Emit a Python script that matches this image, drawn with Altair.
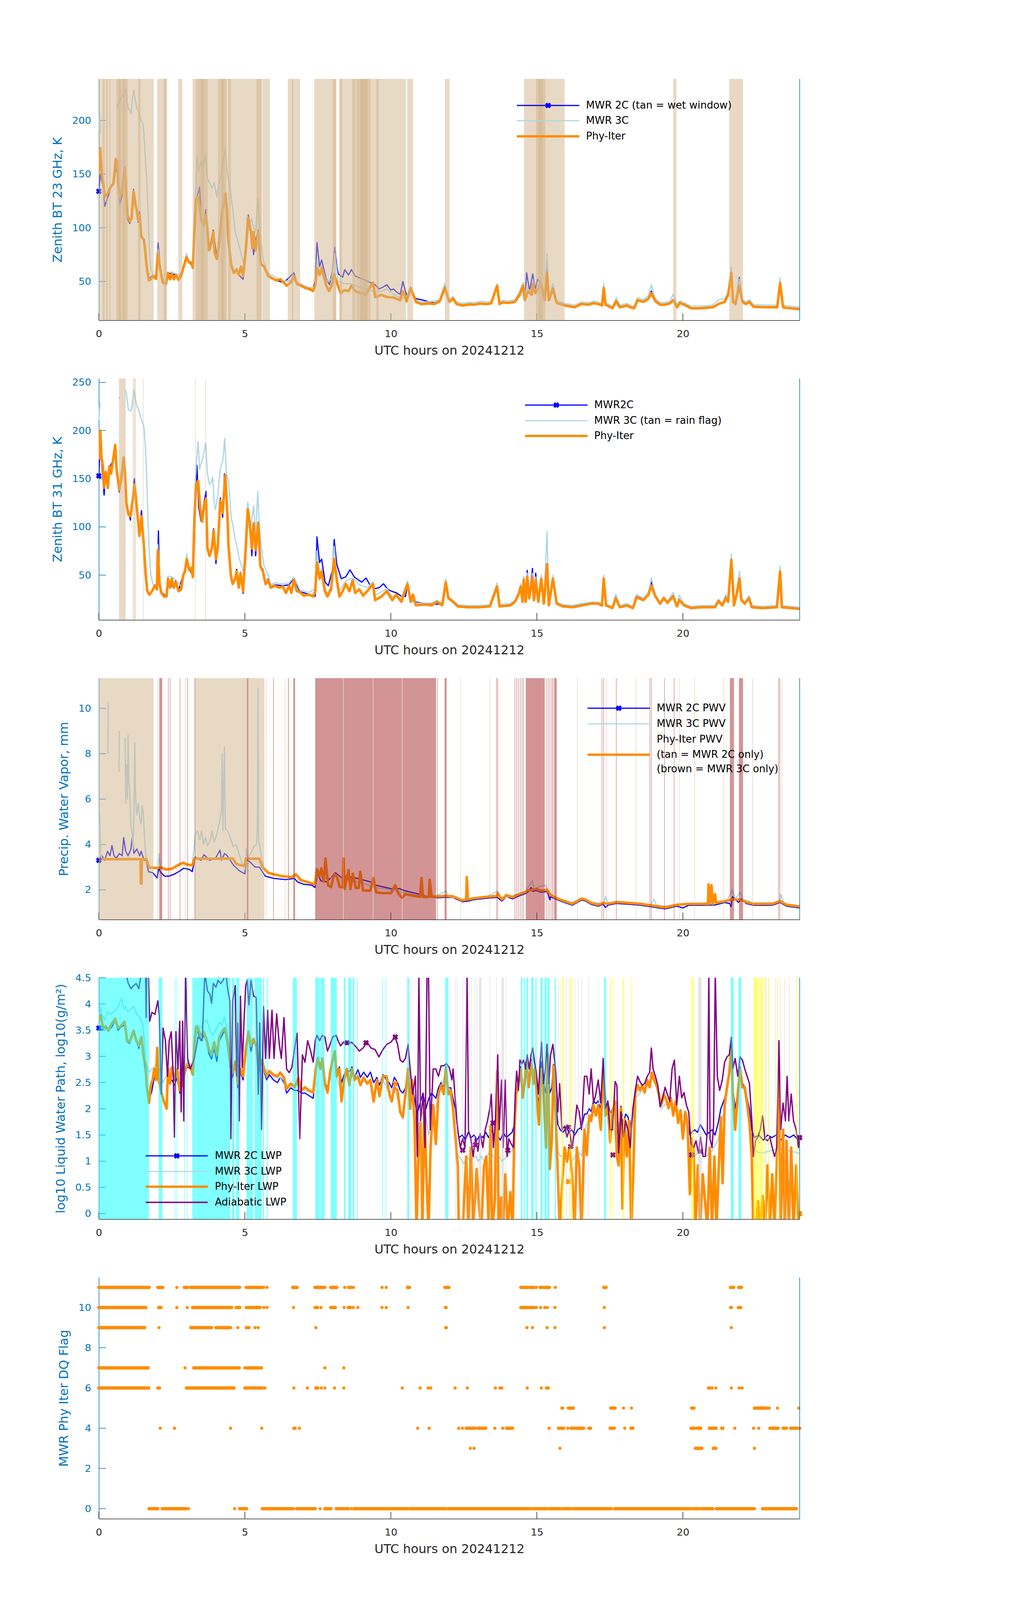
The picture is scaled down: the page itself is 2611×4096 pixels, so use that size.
import altair as alt
import pandas as pd

# ------------------------------------------------------------------ data
X_TICKS = [0, 5, 10, 15, 20]
X_TITLE = "UTC hours on 20241212"

# ---- panel 1 : 23 GHz
P1_YDOM = [13.8, 238.7]
P1_YTICKS = [50, 100, 150, 200]
P1_PHY = [(0,152),(0.05,174),(0.1,149),(0.15,142),(0.2,129),(0.3,132),(0.42,139),(0.5,141),(0.58,164),(0.63,162),(0.66,142),(0.72,129),(0.79,132),(0.88,156),(0.92,142),(0.98,111),(1.06,106),(1.12,109),(1.19,134),(1.26,121),(1.3,116),(1.35,107),(1.4,112),(1.45,92),(1.54,89),(1.58,81),(1.63,66),(1.71,51),(1.78,52),(1.85,55),(1.96,52.5),(2.02,76),(2.1,62),(2.19,49),(2.3,47.5),(2.37,58),(2.44,52),(2.5,57),(2.57,52),(2.64,56),(2.73,51.5),(2.82,55),(2.89,62.5),(2.95,67.5),(3.0,72.5),(3.09,67.5),(3.18,67.5),(3.22,62.5),(3.27,95.7),(3.33,127),(3.4,129),(3.45,119),(3.51,107),(3.59,102),(3.66,112),(3.7,104),(3.77,79),(3.86,86),(3.92,96),(3.97,76),(4.04,71),(4.13,87),(4.22,116),(4.28,122),(4.34,132),(4.39,112),(4.44,87),(4.53,66),(4.62,58),(4.72,61),(4.79,56),(4.87,64),(4.94,55),(5.03,79),(5.12,109),(5.21,96),(5.26,81),(5.3,96),(5.37,79),(5.46,96),(5.55,66),(5.66,64),(5.8,55),(5.94,53),(6.07,51),(6.21,52),(6.34,49),(6.43,46),(6.57,49),(6.68,55),(6.79,47.5),(6.93,46),(7.06,44),(7.24,43),(7.33,41),(7.41,46),(7.47,62.5),(7.56,56),(7.63,62.5),(7.79,46),(7.88,41),(7.97,46),(8.06,57),(8.15,49),(8.28,39),(8.42,42),(8.55,41),(8.65,46),(8.78,41),(8.96,39),(9.14,38),(9.39,49),(9.46,35.5),(9.68,37.5),(9.86,35.5),(10.09,35),(10.32,32.5),(10.41,41),(10.54,31.5),(10.68,44),(10.86,31),(11.04,29),(11.31,29.5),(11.49,29),(11.67,31.5),(11.85,44),(12.0,31),(12.13,34),(12.25,29),(12.46,27.6),(12.7,28.6),(12.86,28.4),(13.05,29.4),(13.27,29),(13.43,29.5),(13.64,45.9),(13.72,29),(13.85,30.5),(14.0,30),(14.25,31),(14.41,37.5),(14.53,45.9),(14.59,32.6),(14.7,41),(14.82,37.5),(14.86,47.5),(14.94,39),(15.02,42),(15.15,47.5),(15.27,32.6),(15.35,57.6),(15.41,32.6),(15.55,43),(15.68,30),(15.96,27.6),(16.1,27.0),(16.29,26),(16.53,29),(16.78,28.4),(16.95,29.8),(17.1,29),(17.23,27.6),(17.29,44),(17.35,28.4),(17.59,25),(17.72,31.6),(17.84,26),(18.08,27.6),(18.2,26.0),(18.33,25),(18.45,32.6),(18.65,31),(18.82,34),(18.92,39),(19.06,31.6),(19.22,28.4),(19.39,28.4),(19.55,29.5),(19.67,32.6),(19.8,26),(19.9,30),(20.04,28.4),(20.29,25),(20.61,25),(20.85,25.5),(21.02,26),(21.22,29),(21.43,31),(21.55,37.5),(21.66,57.6),(21.72,31),(21.8,29),(21.93,46),(22.04,31),(22.16,29),(22.28,31),(22.41,26.5),(22.6,26.2),(22.9,26),(23.23,26),(23.33,48.4),(23.43,26),(23.55,25.4),(23.71,25),(24.0,24.2)]
P1_2C = [(0,134),(0.05,150),(0.15,138),(0.2,120),(0.3,128),(0.42,138),(0.5,140),(0.6,158),(0.72,122),(0.8,130),(0.88,150),(0.98,108),(1.06,104),(1.12,110),(1.19,136),(1.26,120),(1.35,105),(1.4,115),(1.45,93),(1.54,88),(1.63,66),(1.71,52),(1.85,56),(1.96,54),(2.03,86),(2.1,64),(2.19,49),(2.3,47),(2.37,58),(2.5,57),(2.64,56),(2.73,52),(2.89,63),(2.95,70),(3.0,74),(3.09,68),(3.22,64),(3.33,125),(3.45,138),(3.51,110),(3.59,103),(3.66,117),(3.77,79),(3.92,98),(4.04,72),(4.22,118),(4.28,124),(4.34,128),(4.44,88),(4.53,67),(4.62,59),(4.72,62),(4.79,56),(4.94,52),(5.03,80),(5.12,112),(5.21,98),(5.3,75),(5.37,88),(5.46,98),(5.55,66),(5.66,64),(5.8,56),(6.07,51),(6.34,49),(6.68,58),(6.79,48),(7.06,44),(7.33,41),(7.41,52),(7.47,86),(7.56,64),(7.63,70),(7.79,52),(7.9,47),(8.0,60),(8.08,82),(8.15,64),(8.2,57),(8.35,54),(8.42,61),(8.55,56),(8.65,61),(8.78,55),(8.96,53),(9.14,51),(9.3,49),(9.46,47),(9.6,43),(9.75,45),(9.86,47),(10.0,42),(10.09,43),(10.2,40),(10.32,38),(10.41,50),(10.54,37),(10.68,41),(10.86,34),(11.04,33),(11.31,31),(11.49,30),(11.67,32),(11.85,45),
         (12.0,31),(12.13,34),(12.25,29),(12.46,27.6),(12.7,28.6),(12.86,28.4),(13.05,29.4),(13.27,29),(13.43,29.5),(13.64,45),(13.72,29),(13.85,30.5),(14.0,30),(14.25,31),(14.41,39),(14.53,48),(14.59,33),(14.65,58),(14.75,41),(14.86,57),(14.94,42),(15.02,52),(15.15,48),(15.27,34),(15.35,63),(15.41,33),(15.55,44),(15.68,30.5),(15.96,28),(16.1,27.2),(16.29,26.3),(16.53,29),(16.78,28.4),(16.95,29.6),(17.1,29),(17.23,27.6),(17.29,45),(17.35,28.4),(17.59,25),(17.72,31.6),(17.84,26),(18.08,27.6),(18.2,26),(18.33,25),(18.45,33),(18.65,31),(18.82,34),(18.92,41),(19.06,31.6),(19.22,28.4),(19.39,28.4),(19.55,29.5),(19.67,33),(19.8,26),(19.9,30),(20.04,28.4),(20.29,25),(20.61,25),(20.85,25.5),(21.02,26),(21.22,29),(21.43,31),(21.55,39),(21.66,63),(21.72,31),(21.8,29),(21.93,54),(22.04,32),(22.16,29),(22.28,31),(22.41,26.3),(22.6,26),(22.9,25.8),(23.23,26),(23.33,52),(23.43,26),(23.55,25.2),(23.71,24.8),(24.0,24)]
P1_3C = [(0,190),(0.03,205),(0.06,188), None,
         (0.62,212),(0.7,218),(0.8,222),(0.92,229),(1.0,212),(1.05,210),(1.1,206),(1.15,220),(1.2,228),(1.25,218),(1.3,212),(1.38,207),(1.45,200),(1.52,196),(1.56,180),(1.6,160),(1.64,146),(1.69,112),(1.73,79),(1.78,62),(1.85,56),(1.96,54),(2.03,80),(2.1,63),(2.19,52),(2.3,50),(2.4,58),(2.5,59),(2.64,57),(2.82,56),(2.95,70),(3.0,76),(3.09,69),(3.22,68),(3.3,128),(3.36,166),(3.42,152),(3.5,162),(3.58,156),(3.66,169),(3.72,146),(3.8,141),(3.88,137),(3.95,142),(4.04,129),(4.1,140),(4.17,146),(4.24,159),(4.33,174),(4.39,152),(4.49,137),(4.58,119),(4.67,96),(4.81,82.5),(4.9,72.5),(4.99,64),(5.08,112),(5.17,104),(5.23,108),(5.3,100),(5.37,96),(5.44,127),(5.53,96),(5.62,71),(5.71,62.5),(5.8,57.6),(6.0,55),(6.3,50),(6.6,51),(6.9,48),(7.2,44),(7.41,45),(7.47,70),(7.56,57),(7.63,65),(7.79,50),(7.97,52),(8.08,76),(8.2,50),(8.4,48),(8.6,48),(8.8,46),(9.0,44),(9.2,43),(9.46,40),(9.7,41),(9.86,43),(10.09,38),(10.32,35),(10.5,34),(10.68,44),(10.86,33),(11.04,31),(11.3,31),(11.67,33),(11.85,48),
         (12.0,33),(12.13,36),(12.25,31),(12.46,29.5),(12.7,30.5),(12.86,30.3),(13.05,31.3),(13.27,31),(13.43,31.5),(13.64,48),(13.72,31),(13.85,32.5),(14.0,32),(14.25,33),(14.41,41),(14.53,49),(14.59,35),(14.65,45),(14.7,43),(14.82,40),(14.86,52),(14.94,41),(15.02,45),(15.15,50),(15.27,36),(15.35,76),(15.41,35),(15.55,48),(15.68,32),(15.96,29.5),(16.1,29),(16.29,28),(16.53,31),(16.78,30.3),(16.95,31.6),(17.1,31),(17.23,29.5),(17.29,48),(17.35,30.3),(17.59,27),(17.72,35),(17.84,28),(18.08,29.5),(18.2,28),(18.33,27),(18.45,35),(18.65,33),(18.82,37),(18.92,47),(19.06,34),(19.22,30.3),(19.39,30.3),(19.55,31.5),(19.67,38),(19.8,29),(19.9,32),(20.04,30.3),(20.29,27),(20.61,27),(20.85,27.5),(21.02,28),(21.22,33),(21.43,34),(21.55,40),(21.66,63),(21.72,33),(21.8,31),(21.93,52),(22.04,33),(22.16,31),(22.28,33),(22.41,28.5),(22.6,28.2),(22.9,28),(23.23,28),(23.33,53),(23.43,28),(23.55,27.4),(23.71,27),(24.0,26)]
P1_TAN = [(0,1.88),(0.13,0.2),(0.25,0.31),(0.36,0.4),(0.6,0.99),(0.67,0.75),(0.83,0.9),(1.34,1.43),(2.0,2.33),(2.22,2.33),(2.72,2.86),(3.21,5.58),(5.6,5.86),(3.32,3.73),(3.5,3.6),(4.08,4.37),(4.2,4.3),(4.43,4.52),(5.4,5.58),(6.47,6.89),(6.61,6.66),(7.38,8.13),(8.01,8.13),(8.24,10.52),(8.24,8.33),(8.68,8.79),(8.82,9.3),(8.95,9.2),(9.5,9.59),(10.56,10.76),(11.85,12.01),(14.56,15.95),(14.97,15.29),(15.05,15.2),(19.67,19.78),(21.59,22.06)]

# ---- panel 2 : 31 GHz
P2_YDOM = [3.5, 254]
P2_YTICKS = [50, 100, 150, 200, 250]
P2_PHY = [(0,170),(0.05,199.7),(0.09,172),(0.14,162.8),(0.18,140.6),(0.24,157),(0.31,140.6),(0.36,162.8),(0.42,155.4),(0.5,172),(0.56,185),(0.61,159),(0.7,138.7),(0.76,148),(0.85,172),(0.89,159),(0.94,125.8),(1.01,113),(1.08,111),(1.17,129.5),(1.22,144),(1.26,133),(1.33,111),(1.39,90.7),(1.46,111),(1.54,81.4),(1.6,51.8),(1.66,33.3),(1.73,29.7),(1.82,33.3),(1.92,39),(1.99,35.2),(2.02,75.9),(2.08,40.8),(2.14,31.5),(2.23,27.8),(2.32,27.8),(2.37,46.3),(2.44,37),(2.5,46.3),(2.57,37),(2.64,42.6),(2.73,33.3),(2.82,35.2),(2.89,50),(2.95,53.7),(3.01,66.6),(3.09,55.5),(3.16,57.4),(3.22,48),(3.27,105.5),(3.33,144),(3.4,148),(3.47,118.4),(3.54,105.5),(3.6,122),(3.67,129.5),(3.72,77.7),(3.79,70),(3.87,77.7),(3.93,96.2),(4.01,66.6),(4.07,77.7),(4.16,127.6),(4.24,114.7),(4.33,153.5),(4.4,114.7),(4.44,81.4),(4.52,50),(4.58,40.8),(4.67,46.3),(4.72,53.7),(4.79,37),(4.85,51.8),(4.94,33.3),(5.03,77.7),(5.1,118.4),(5.17,103.6),(5.24,77.7),(5.3,103.6),(5.37,75.9),(5.46,103.6),(5.53,59.2),(5.62,53.7),(5.71,40.8),(5.8,44.5),(5.89,37),(6.03,39),(6.16,37),(6.3,38),(6.41,31.5),(6.52,39),(6.59,31.5),(6.68,45.4),(6.78,33.3),(6.88,32.4),(7.02,28.7),(7.2,29.7),(7.34,27.8),(7.41,33.3),(7.47,63),(7.56,46.3),(7.63,53.7),(7.74,33.3),(7.83,27.8),(7.95,35.2),(8.06,66.6),(8.15,44.5),(8.24,27.8),(8.35,33.3),(8.46,40.8),(8.58,33.3),(8.69,44.5),(8.78,31.5),(8.92,35.2),(9.05,28.7),(9.19,33.3),(9.39,40.8),(9.46,24.1),(9.68,27.8),(9.86,33.3),(10.05,24),(10.18,29.7),(10.36,22.3),(10.57,40.8),(10.68,22.3),(10.75,29.7),(10.86,18.7),(11.13,19.5),(11.4,18.7),(11.58,22.3),(11.76,18.7),(11.88,42.6),(11.97,26),(12.13,22.3),(12.29,17.6),(12.62,16.7),(13.03,16.7),(13.39,17.6),(13.64,38),(13.72,17.6),(14.09,18.5),(14.25,22.3),(14.37,29.7),(14.45,38),(14.51,22.3),(14.55,45.4),(14.62,22.3),(14.67,48.1),(14.74,26),(14.85,48),(14.9,24.1),(14.96,44.5),(15.05,22.3),(15.15,46.3),(15.24,20.4),(15.35,61),(15.41,18.7),(15.55,46.3),(15.68,20.4),(15.88,17.6),(16.21,16.7),(16.53,18.5),(16.86,20.4),(17.1,20.4),(17.23,18.5),(17.29,46.3),(17.37,18.5),(17.59,15.8),(17.7,26),(17.84,16.7),(18.08,18.5),(18.29,15.8),(18.41,26.9),(18.65,24.1),(18.82,29.7),(18.92,39),(19.06,27.8),(19.22,20.4),(19.35,26),(19.47,21.3),(19.67,27.8),(19.8,17.6),(19.88,24.1),(20.04,18.5),(20.29,15.8),(20.61,16.7),(21.1,16.7),(21.22,23.2),(21.35,18.5),(21.47,26),(21.55,22.3),(21.66,65.7),(21.75,18.5),(21.85,31.5),(21.94,46.3),(22.0,24.1),(22.12,20.4),(22.27,26),(22.36,16.7),(22.73,15.8),(23.22,16.7),(23.33,53.7),(23.39,16.7),(23.71,15.8),(24.0,14.9)]
P2_2C = [(0,153),(0.05,190),(0.1,165),(0.18,133),(0.24,155),(0.31,140),(0.36,160),(0.42,165),(0.5,170),(0.56,180),(0.61,158),(0.7,136),(0.76,148),(0.85,170),(0.94,123),(1.01,117),(1.08,107),(1.17,132),(1.22,150),(1.26,130),(1.33,115),(1.39,92),(1.46,117),(1.54,80),(1.6,50),(1.66,33),(1.73,30),(1.82,34),(1.92,40),(1.99,36),(2.04,96),(2.08,44),(2.14,32),(2.3,28),(2.37,47),(2.44,38),(2.57,39),(2.64,45),(2.73,34),(2.89,51),(2.95,55),(3.01,70),(3.09,57),(3.22,49),(3.3,110),(3.36,164),(3.42,120),(3.5,106),(3.6,125),(3.67,137),(3.72,80),(3.79,72),(3.87,80),(3.93,98),(4.01,62),(4.07,80),(4.16,130),(4.24,110),(4.3,155),(4.4,115),(4.44,82),(4.52,52),(4.58,41),(4.67,47),(4.72,56),(4.79,38),(4.85,53),(4.94,31),(5.03,80),(5.1,123),(5.17,105),(5.24,70),(5.3,103),(5.37,70),(5.46,105),(5.53,60),(5.62,56),(5.71,42),(5.8,46),(5.89,38),(6.03,40),(6.3,39),(6.52,40),(6.68,47),(6.88,33),(7.2,30),(7.41,28),(7.47,89.7),(7.56,63),(7.63,66.6),(7.75,42.6),(7.86,39),(8.0,55.5),(8.06,87),(8.15,61),(8.3,46.3),(8.45,48),(8.6,55.5),(8.75,48),(9.0,42.6),(9.15,47),(9.3,39),(9.46,36),(9.6,37),(9.75,41),(9.9,35),(10.05,33),(10.2,31.5),(10.36,28),(10.5,27.8),(10.57,40),(10.68,25),(10.8,22.3),(11.1,21),(11.5,20),
         (11.76,19.5),(11.88,43),(11.97,26),(12.13,22),(12.29,18),(12.62,17.2),(13.03,17.2),(13.39,18),(13.64,39),(13.72,18),(14.09,19),(14.25,23),(14.37,31),(14.45,39),(14.51,23),(14.55,47),(14.62,23),(14.67,55),(14.74,27),(14.85,57),(14.9,25),(14.96,52),(15.05,23),(15.15,47),(15.24,21),(15.35,62),(15.41,19.5),(15.55,48),(15.68,21),(15.88,18.5),(16.21,17.5),(16.53,19.5),(16.86,21),(17.1,21),(17.23,19),(17.29,48),(17.37,19),(17.59,16.5),(17.7,28),(17.84,17.5),(18.08,19),(18.29,16.5),(18.41,28),(18.65,25),(18.82,31),(18.92,43),(19.06,29),(19.22,21),(19.35,27),(19.47,22),(19.67,29),(19.8,18.5),(19.88,25),(20.04,19),(20.29,16.5),(20.61,17.2),(21.1,17.2),(21.22,24),(21.35,19),(21.47,28),(21.55,23),(21.66,70),(21.75,19),(21.85,33),(21.94,52),(22.0,25),(22.12,21),(22.27,27),(22.36,17.5),(22.73,16.5),(23.22,17.5),(23.33,57),(23.39,17.5),(23.71,16.5),(24.0,15.5)]
P2_3C = [(0,211),(0.04,229), None, (0.69,233),(0.71,235), None,
         (0.92,242),(0.97,232),(1.01,222),(1.1,220),(1.16,230),(1.21,242),(1.26,232),(1.3,225.6),(1.36,222),(1.42,214.5),(1.48,210),(1.55,203),(1.6,180),(1.64,151.7),(1.68,110),(1.72,77.7),(1.78,50),(1.87,39),(1.99,38),(2.02,82),(2.08,44),(2.14,33),(2.3,30),(2.37,49),(2.5,48),(2.64,45),(2.82,38),(2.95,58),(3.01,72),(3.09,58),(3.22,52),(3.3,145),(3.35,170),(3.4,188.6),(3.45,160),(3.5,166),(3.55,170),(3.61,179),(3.66,187),(3.72,155),(3.79,144),(3.85,146),(3.9,151.7),(3.95,125),(3.99,118),(4.05,128),(4.08,133),(4.12,150),(4.16,159),(4.2,165),(4.24,168),(4.28,180),(4.31,192),(4.34,172),(4.37,155),(4.44,148),(4.53,111),(4.6,100),(4.67,87),(4.74,78),(4.81,66.6),(4.9,59),(4.99,50),(5.03,80),(5.1,126),(5.2,100),(5.3,122),(5.37,90),(5.44,137),(5.5,100),(5.57,77.7),(5.66,59),(5.8,50),(5.89,40),(6.03,42),(6.3,41),(6.52,42),(6.68,48),(6.88,35),(7.2,32),(7.41,36),(7.47,75),(7.56,50),(7.63,57),(7.74,37),(7.83,31),(7.95,38),(8.06,80),(8.15,48),(8.24,34),(8.46,44),(8.69,47),(8.92,40),(9.19,37),(9.39,43),(9.46,29),(9.86,36),(10.05,28),(10.36,26),(10.57,44),(10.68,26),(10.86,21),(11.4,21),
         (11.58,24),(11.76,20.5),(11.88,46),(11.97,28),(12.13,24),(12.29,19.5),(12.62,18.5),(13.03,18.5),(13.39,19.5),(13.64,42),(13.72,19.5),(14.09,20.5),(14.25,24),(14.37,32),(14.45,41),(14.51,24),(14.55,49),(14.62,24),(14.67,52),(14.74,28),(14.85,52),(14.9,26),(14.96,48),(15.05,25),(15.15,50),(15.24,22),(15.35,95.3),(15.41,21),(15.55,50),(15.68,22),(15.88,19.5),(16.21,18.5),(16.53,20.5),(16.86,22),(17.1,22),(17.23,20.5),(17.29,50),(17.37,20),(17.59,17.5),(17.7,30),(17.84,18.5),(18.08,20.5),(18.29,17.5),(18.41,30),(18.65,26),(18.82,32),(18.92,47),(19.06,30),(19.22,22),(19.35,28),(19.47,23),(19.67,32),(19.8,19.5),(19.88,29),(20.04,20.5),(20.29,17.5),(20.61,18.5),(21.1,18.5),(21.22,25),(21.35,20.5),(21.47,30),(21.55,24),(21.66,72),(21.75,20),(21.85,34),(21.94,54),(22.0,27),(22.12,22),(22.27,29),(22.36,18.5),(22.73,17.5),(23.22,18.5),(23.33,59),(23.39,18.5),(23.71,17.5),(24.0,16.5)]
P2_TAN = [(0.69,0.92),(1.16,1.19),(1.21,1.26),(1.51,1.53),(3.3,3.32),(3.65,3.67)]

# ---- panel 3 : PWV
P3_YDOM = [0.69, 11.33]
P3_YTICKS = [2, 4, 6, 8, 10]
P3_PHY = [(0,3.35),(1.43,3.35),(1.44,2.28),(1.46,2.28),(1.47,3.35),(1.63,3.35),(1.72,2.99),(2.0,2.96),(2.1,2.99),(2.3,2.9),(2.5,2.93),(2.8,3.15),(2.9,3.19),(3.0,3.12),(3.2,3.08),(3.27,3.37),(4.6,3.37),(4.7,3.15),(4.9,3.07),(5.0,3.07),(5.03,3.37),(5.5,3.37),(5.6,3.0),(5.8,2.75),(6.0,2.68),(6.3,2.6),(6.6,2.56),(6.75,2.68),(6.9,2.44),(7.1,2.36),(7.3,2.28),(7.4,2.24),(7.47,2.91),(7.55,2.6),(7.62,2.95),(7.7,2.36),(7.76,3.38),(7.85,2.2),(7.95,2.12),(8.06,2.68),(8.15,2.6),(8.25,2.12),(8.35,2.12),(8.38,3.38),(8.42,2.04),(8.55,2.87),(8.62,2.04),(8.7,2.71),(8.8,2.08),(8.9,2.08),(8.95,2.79),(9.05,1.97),(9.3,1.97),(9.4,2.52),(9.5,1.89),(9.75,1.85),(10.0,1.85),(10.15,2.2),(10.25,1.85),(10.38,1.65),(10.5,1.81),(10.8,1.73),(11.0,1.69),(11.05,2.52),(11.1,1.69),(11.3,1.69),(11.33,2.44),(11.4,1.69),(11.6,1.71),(11.9,1.73),(12.13,1.71),(12.46,1.53),(12.58,1.57),(12.6,2.56),(12.64,1.57),(12.86,1.63),(13.27,1.69),(13.64,1.73),(13.66,1.85),(13.8,1.57),(13.96,1.77),(14.17,1.67),(14.33,1.77),(14.58,1.89),(14.7,1.97),(14.86,2.0),(14.98,2.04),(15.11,1.97),(15.23,1.97),(15.35,2.0),(15.47,1.77),(15.64,1.65),(15.88,1.53),(16.21,1.38),(16.37,1.49),(16.53,1.61),(16.66,1.57),(16.86,1.42),(17.1,1.34),(17.27,1.42),(17.43,1.38),(17.72,1.46),(18.16,1.42),(18.57,1.38),(18.98,1.3),(19.39,1.22),(19.8,1.34),(20.2,1.38),(20.61,1.38),(20.86,1.38),(20.88,2.24),(20.92,1.38),(20.98,2.2),(21.02,1.38),(21.1,1.81),(21.14,1.42),(21.43,1.5),(21.67,1.57),(21.95,1.57),(22.16,1.46),(22.41,1.38),(23.06,1.38),(23.33,1.5),(23.55,1.34),(24.0,1.26)]
P3_2C = [(0,3.3),(0.1,3.5),(0.2,3.3),(0.3,3.7),(0.38,3.5),(0.45,3.95),(0.52,3.5),(0.6,3.4),(0.7,3.6),(0.8,3.5),(0.85,4.3),(0.92,3.7),(1.0,3.5),(1.1,3.8),(1.15,4.4),(1.2,3.6),(1.3,3.8),(1.4,3.5),(1.45,3.7),(1.55,3.3),(1.62,3.3),(1.7,2.8),(1.85,2.75),(2.0,2.52),(2.05,3.0),(2.1,2.8),(2.25,2.6),(2.4,2.6),(2.6,2.7),(2.8,2.85),(2.9,2.95),(3.1,2.9),(3.2,2.8),(3.3,3.45),(3.5,3.3),(3.6,3.55),(3.8,3.3),(4.0,3.4),(4.15,3.75),(4.2,3.3),(4.3,3.6),(4.4,3.5),(4.6,3.1),(4.8,2.85),(5.0,2.7),(5.05,3.35),(5.2,3.2),(5.35,3.0),(5.5,3.0),(5.6,2.8),(5.7,2.6),(6.0,2.5),(6.4,2.45),(6.7,2.5),(6.8,2.35),(7.0,2.25),(7.3,2.2),(7.4,2.1),(7.5,2.7),(7.6,2.4),(7.8,2.35),(8.0,2.6),(8.1,2.75),(8.3,2.55),(8.5,2.6),(8.7,2.55),(9.0,2.45),(9.3,2.35),(9.5,2.2),(10.0,2.05),(10.3,2.05),(10.5,1.95),(11.0,1.8),(11.3,1.7),
         (11.6,1.65),(11.9,1.67),(12.13,1.65),(12.46,1.47),(12.58,1.5),(12.64,1.5),(12.86,1.57),(13.27,1.63),(13.64,1.67),(13.8,1.5),(13.96,1.7),(14.17,1.6),(14.33,1.7),(14.58,1.82),(14.7,1.9),(14.8,2.1),(14.86,1.93),(14.98,1.97),(15.11,1.9),(15.23,1.9),(15.35,1.93),(15.45,1.55),(15.47,1.7),(15.64,1.59),(15.88,1.47),(16.21,1.32),(16.37,1.43),(16.53,1.55),(16.66,1.51),(16.86,1.36),(17.1,1.28),(17.27,1.36),(17.35,1.22),(17.43,1.32),(17.72,1.4),(18.16,1.36),(18.57,1.32),(18.98,1.24),(19.39,1.16),(19.8,1.28),(20.0,1.2),(20.2,1.32),(20.61,1.32),(21.1,1.33),(21.43,1.44),(21.6,1.4),(21.65,1.25),(21.7,1.7),(21.9,1.45),(21.95,1.51),(22.0,1.6),(22.16,1.4),(22.41,1.32),(23.06,1.32),(23.33,1.44),(23.55,1.28),(24.0,1.2)]
P3_3C = [(0,3.3),(0.03,5.3),(0.06,3.6),(0.1,3.4), None, (0.31,8.0),(0.32,10.3), None, (0.69,7.2),(0.7,9.0), None,
         (0.9,8.7),(0.92,5.8),(0.95,7.5),(0.98,6.0),(1.0,8.8),(1.03,6.8),(1.06,6.2),(1.1,4.8),(1.14,4.5),(1.17,3.8),(1.2,5.0),(1.23,8.5),(1.26,6.0),(1.3,5.3),(1.35,5.8),(1.4,5.2),(1.45,4.9),(1.48,5.7),(1.52,5.4),(1.56,4.4),(1.6,3.6),(1.65,3.2),(1.72,3.0),(1.9,2.95),(2.03,3.0),(2.06,3.6),(2.1,3.0),(2.3,2.85),(2.5,2.9),(2.8,3.15),(2.95,3.2),(3.1,3.1),(3.2,3.05),(3.3,4.4),(3.38,4.6),(3.45,4.2),(3.52,4.6),(3.58,4.0),(3.65,4.3),(3.72,3.95),(3.8,4.1),(3.88,4.6),(3.95,4.1),(4.05,4.5),(4.13,5.0),(4.2,5.5),(4.22,8.0),(4.25,4.6),(4.3,8.3),(4.33,4.7),(4.4,4.6),(4.47,4.4),(4.55,4.1),(4.6,3.9),(4.7,4.0),(4.8,3.6),(4.9,3.2),(5.0,2.9),(5.05,3.8),(5.1,3.4),(5.2,3.6),(5.3,3.9),(5.4,4.0),(5.43,4.8),(5.45,10.9),(5.47,4.2),(5.55,3.6),(5.65,3.0),(5.75,2.8),(6.0,2.7),(6.3,2.6),(6.6,2.56),(6.75,2.7),(7.0,2.4),(7.4,2.25),(7.5,2.7),(7.7,2.5),(8.0,2.55),(8.1,2.7),(8.3,2.5),(8.6,2.45),(9.0,2.3),(9.5,2.1),(10.0,2.0),(10.5,1.85),(11.0,1.75),(11.5,1.7),(11.9,1.95),(11.95,1.7),(12.5,1.56),(13.3,1.7),(13.65,1.95),(13.8,1.6),(14.3,1.8),(14.6,1.9),(14.85,2.4),(14.9,2.0),(15.1,2.15),(15.3,2.2),(15.45,1.8),(15.6,1.68),(16.2,1.42),(16.5,1.63),(16.9,1.44),(17.3,1.4),(17.35,1.7),(17.45,1.4),(18.0,1.45),(18.5,1.4),(18.9,1.32),(19.0,1.6),(19.1,1.32),(19.4,1.28),(19.8,1.35),(20.5,1.4),(21.5,1.5),(21.7,2.0),(21.8,1.6),(21.95,1.9),(22.05,1.6),(22.4,1.42),(23.3,1.44),(23.35,1.8),(23.45,1.4),(24.0,1.3)]
P3_TAN = [(0,1.87),(2.0,2.02),(2.95,2.97),(3.28,5.67),(5.72,5.74),(6.37,6.39),(6.47,6.49),(8.36,8.38),(9.38,9.4),(10.38,10.4),(12.38,12.4),(13.38,13.4),(16.38,16.4),(17.38,17.4),(18.38,18.4),(19.87,19.89),(20.39,20.41),(21.39,21.41),(22.38,22.4),(23.38,23.4)]
P3_BROWN = [(2.07,2.17),(2.37,2.39),(2.43,2.45),(2.77,2.79),(3.03,3.05),(3.28,3.3),(5.07,5.09),(5.1,5.12),(5.97,5.99),(6.49,6.51),(6.66,6.72),(7.41,8.36),(8.38,9.38),(9.4,10.38),(10.4,11.55),(11.59,11.61),(11.84,11.91),(13.61,13.63),(13.65,13.67),(14.24,14.26),(14.3,14.32),(14.36,14.38),(14.42,14.44),(14.48,14.5),(14.53,14.55),(14.62,15.27),(15.32,15.34),(15.38,15.4),(15.44,15.46),(15.5,15.52),(15.54,15.56),(15.59,15.68),(17.22,17.24),(17.28,17.3),(17.71,17.73),(18.86,18.88),(18.91,18.93),(19.36,19.38),(19.69,19.71),(21.61,21.75),(21.92,22.06),(23.27,23.29),(23.31,23.33)]

# ---- panel 4 : LWP
P4_YDOM = [-0.105, 4.5]
P4_YTICKS = [0, 0.5, 1, 1.5, 2, 2.5, 3, 3.5, 4, 4.5]
P4_PHY = [(0,3.67),(0.06,3.79),(0.15,3.54),(0.24,3.57),(0.33,3.49),(0.42,3.6),(0.56,3.72),(0.65,3.54),(0.74,3.57),(0.88,3.66),(0.97,3.3),(1.06,3.28),(1.19,3.49),(1.28,3.3),(1.37,3.2),(1.46,3.37),(1.54,2.96),(1.6,2.86),(1.64,2.45),(1.72,2.11),(1.78,2.45),(1.84,2.55),(1.9,2.76),(1.96,2.55),(2.0,3.16),(2.05,2.55),(2.14,2.31),(2.23,2.14),(2.32,2.0),(2.37,2.76),(2.44,2.48),(2.5,2.79),(2.59,2.55),(2.68,2.76),(2.77,2.35),(2.86,2.48),(2.95,2.72),(3.04,2.86),(3.16,2.76),(3.22,2.65),(3.27,3.23),(3.33,3.57),(3.4,3.54),(3.5,3.37),(3.59,3.47),(3.68,3.33),(3.77,3.13),(3.86,3.03),(3.95,3.27),(4.04,3.03),(4.13,3.37),(4.22,3.47),(4.31,3.54),(4.4,3.3),(4.49,2.89),(4.58,2.69),(4.67,2.89),(4.76,2.48),(4.85,2.76),(4.94,2.62),(5.03,3.1),(5.12,3.47),(5.21,3.2),(5.3,3.33),(5.39,3.2),(5.48,2.72),(5.57,2.93),(5.66,2.76),(5.75,2.62),(5.84,2.72),(5.98,2.65),(6.12,2.62),(6.21,2.69),(6.34,2.59),(6.43,2.38),(6.57,2.48),(6.7,2.41),(6.84,2.59),(6.93,2.35),(7.06,2.41),(7.2,2.35),(7.34,2.31),(7.43,2.76),(7.5,2.96),(7.59,2.76),(7.65,2.96),(7.74,2.48),(7.83,2.31),(7.92,2.69),(7.99,2.89),(8.08,3.1),(8.15,2.62),(8.24,2.76),(8.31,2.14),(8.4,2.55),(8.49,2.76),(8.58,2.45),(8.67,2.76),(8.76,2.55),(8.87,2.62),(8.96,2.45),(9.07,2.59),(9.19,2.48),(9.3,2.55),(9.41,2.14),(9.52,2.55),(9.61,2.24),(9.73,2.62),(9.85,2.62),(9.94,2.31),(10.03,2.14),(10.12,2.41),(10.23,2.35),(10.32,1.94),(10.41,1.84),(10.5,2.28),(10.59,2.76),(10.66,2.0),(10.72,2.55),(10.81,1.77),(10.88,-0.3),(10.95,1.26),(11.02,1.73),(11.08,-0.3),(11.15,2.11),(11.22,0.68),(11.29,-0.3),(11.36,1.26),(11.45,2.07),(11.54,1.33),(11.63,2.28),(11.72,2.45),(11.81,2.28),(11.88,2.76),(11.97,2.28),(12.05,2.35),(12.13,2.0),(12.21,1.46),(12.29,0.92),(12.33,-0.3),(12.46,-0.3),(12.58,1.09),(12.66,-0.3),(12.74,1.26),(12.82,-0.3),(12.94,0.85),(13.03,0.07),(13.1,-0.3),(13.19,0.92),(13.27,1.09),(13.35,-0.3),(13.41,1.67),(13.47,-0.3),(13.56,0.24),(13.64,2.72),(13.69,-0.3),(13.78,0.31),(13.84,-0.3),(13.92,0.75),(14.0,-0.3),(14.09,0.41),(14.17,-0.3),(14.23,1.6),(14.29,2.28),(14.37,2.48),(14.45,2.76),(14.51,2.21),(14.58,2.48),(14.64,2.89),(14.72,2.41),(14.8,2.89),(14.89,2.48),(14.94,2.76),(15.0,2.21),(15.07,1.7),(15.15,2.76),(15.23,2.41),(15.31,1.26),(15.38,3.03),(15.44,0.85),(15.51,1.39),(15.57,2.82),(15.64,1.87),(15.72,0.75),(15.78,-0.3),(15.86,0.51),(15.95,1.26),(16.03,0.99),(16.11,1.26),(16.21,0.75),(16.29,-0.3),(16.37,1.26),(16.45,0.92),(16.53,-0.3),(16.63,1.6),(16.71,1.12),(16.79,1.87),(16.86,1.77),(16.94,2.07),(17.02,1.87),(17.1,2.07),(17.19,1.6),(17.27,2.76),(17.35,1.87),(17.43,2.07),(17.51,1.36),(17.59,1.94),(17.68,2.14),(17.74,1.09),(17.8,0.92),(17.88,2.01),(17.93,0.1),(18.0,1.8),(18.08,1.09),(18.16,1.77),(18.23,-0.3),(18.31,0.92),(18.37,2.28),(18.45,2.45),(18.53,2.35),(18.61,2.45),(18.69,2.31),(18.78,2.55),(18.86,2.41),(18.94,2.69),(19.02,2.55),(19.1,2.45),(19.18,2.28),(19.26,2.07),(19.35,2.28),(19.43,2.18),(19.51,2.01),(19.59,2.21),(19.67,1.87),(19.75,2.14),(19.84,1.73),(19.92,1.97),(20.0,1.43),(20.08,1.94),(20.16,1.73),(20.24,0.37),(20.3,1.43),(20.37,1.19),(20.43,-0.3),(20.51,0.92),(20.59,-0.3),(20.68,0.75),(20.76,0.24),(20.84,-0.3),(20.92,1.26),(21.0,-0.3),(21.08,1.09),(21.15,-0.3),(21.22,0.75),(21.3,1.84),(21.36,0.58),(21.43,2.07),(21.51,2.41),(21.59,2.69),(21.66,3.13),(21.71,2.28),(21.79,1.6),(21.88,2.28),(21.96,2.76),(22.04,2.41),(22.12,2.41),(22.2,2.11),(22.28,1.73),(22.36,1.09),(22.41,-0.3),(22.49,-0.3),(22.57,0.24),(22.65,-0.3),(22.73,0.34),(22.81,-0.3),(22.9,0.92),(22.98,-0.3),(23.06,0.75),(23.14,-0.3),(23.22,1.09),(23.29,2.76),(23.35,-0.3),(23.43,1.6),(23.49,-0.3),(23.55,1.39),(23.63,-0.3),(23.71,1.26),(23.79,-0.3),(23.88,0.92),(23.96,-0.3),(24.0,0.0)]
P4_ADIA = [(0.92,4.6),(1.01,4.39),(1.1,4.29),(1.19,4.35),(1.28,4.39),(1.37,4.29),(1.46,4.6),(1.6,4.6),(1.62,3.74),(1.64,4.6),(1.7,4.6),(1.74,3.67),(1.82,3.84),(1.92,3.8),(2.02,4.06),(2.07,3.78),(2.14,2.28),(2.2,3.54),(2.28,3.3),(2.35,2.62),(2.41,3.3),(2.48,3.47),(2.55,2.62),(2.59,1.46),(2.64,3.47),(2.71,2.76),(2.77,3.67),(2.82,1.94),(2.87,3.67),(2.91,1.77),(2.97,4.6),(3.04,2.96),(3.13,2.76),(3.27,2.96),(3.4,3.37),(3.54,3.3),(3.63,4.6),(3.72,4.25),(3.81,4.18),(3.86,4.01),(3.92,4.39),(4.01,4.32),(4.08,4.45),(4.17,4.39),(4.26,4.45),(4.35,4.6),(4.42,4.25),(4.49,4.05),(4.52,1.43),(4.58,4.05),(4.67,4.35),(4.72,2.62),(4.76,3.64),(4.81,1.77),(4.85,4.15),(4.91,2.79),(4.97,3.64),(5.03,4.35),(5.08,4.45),(5.14,3.98),(5.21,4.45),(5.3,4.15),(5.39,4.12),(5.46,2.28),(5.51,3.64),(5.57,1.6),(5.64,3.95),(5.71,2.96),(5.78,3.88),(5.84,2.96),(5.93,3.88),(6.0,2.96),(6.09,3.81),(6.18,3.23),(6.25,2.96),(6.34,3.74),(6.43,2.76),(6.52,2.69),(6.61,2.79),(6.7,3.13),(6.79,3.44),(6.88,1.43),(6.97,3.03),(7.06,2.89),(7.15,3.3),(7.24,3.13),(7.34,2.89),(7.41,3.3),(7.47,3.4),(7.56,3.3),(7.65,3.4),(7.74,3.37),(7.83,3.1),(7.92,3.23),(8.01,3.37),(8.13,3.4),(8.19,3.3),(8.28,3.2),(8.37,3.27),(8.51,3.23),(8.65,3.27),(8.78,3.2),(8.92,3.1),(9.05,3.16),(9.19,3.27),(9.32,3.16),(9.46,3.13),(9.59,2.99),(9.73,3.13),(9.86,3.23),(10.0,3.27),(10.14,3.37),(10.23,3.23),(10.32,2.93),(10.41,2.89),(10.5,2.96),(10.59,3.23),(10.66,2.76),(10.75,2.28),(10.84,2.62),(10.91,1.09),(10.96,4.6),(11.02,1.77),(11.11,2.28),(11.17,1.26),(11.24,4.6),(11.29,4.6),(11.35,1.6),(11.45,2.76),(11.54,2.76),(11.63,2.62),(11.72,2.82),(11.81,2.82),(11.9,2.86),(12.0,2.79),(12.09,2.55),(12.13,2.76),(12.21,2.14),(12.29,1.6),(12.38,1.26),(12.46,1.43),(12.54,1.26),(12.61,4.6),(12.66,1.6),(12.74,1.43),(12.82,1.09),(12.9,1.46),(12.98,1.19),(13.06,1.53),(13.15,1.26),(13.23,1.6),(13.31,1.77),(13.39,2.01),(13.44,2.28),(13.51,1.26),(13.58,1.77),(13.66,3.03),(13.71,1.6),(13.79,2.55),(13.85,1.26),(13.92,2.55),(13.98,1.09),(14.04,1.43),(14.12,1.33),(14.2,1.26),(14.26,2.28),(14.31,2.72),(14.37,2.35),(14.42,2.93),(14.49,2.86),(14.55,2.93),(14.61,2.76),(14.67,3.03),(14.74,2.76),(14.8,3.03),(14.86,3.16),(14.92,2.89),(14.98,2.72),(15.05,2.28),(15.1,2.76),(15.16,3.27),(15.23,2.48),(15.29,2.76),(15.35,3.23),(15.41,2.48),(15.47,3.03),(15.55,3.23),(15.64,2.76),(15.72,1.94),(15.78,2.48),(15.86,1.6),(15.95,1.67),(16.03,1.46),(16.11,1.6),(16.21,1.26),(16.29,1.6),(16.37,2.07),(16.45,1.94),(16.53,1.6),(16.63,2.62),(16.71,2.62),(16.79,2.28),(16.86,2.76),(16.94,2.11),(17.02,2.28),(17.1,2.55),(17.19,2.11),(17.27,2.96),(17.35,2.01),(17.43,2.14),(17.51,1.6),(17.59,1.6),(17.68,2.52),(17.74,2.45),(17.8,1.16),(17.88,1.94),(17.96,1.46),(18.04,1.77),(18.12,1.6),(18.2,1.26),(18.29,2.01),(18.37,2.35),(18.45,2.62),(18.53,2.52),(18.61,2.45),(18.69,2.48),(18.78,2.62),(18.86,2.69),(18.92,3.16),(18.98,2.76),(19.06,2.62),(19.14,2.45),(19.22,2.04),(19.31,2.21),(19.39,2.41),(19.47,2.28),(19.55,2.14),(19.63,2.76),(19.71,2.93),(19.79,2.07),(19.88,2.62),(19.96,2.21),(20.04,2.31),(20.12,2.07),(20.2,1.94),(20.28,1.33),(20.37,1.26),(20.45,1.39),(20.53,1.16),(20.61,1.46),(20.69,1.09),(20.77,1.09),(20.84,1.6),(20.89,4.6),(20.93,1.43),(21.0,1.26),(21.05,1.67),(21.11,4.6),(21.18,2.62),(21.26,2.35),(21.35,2.55),(21.43,2.89),(21.51,2.99),(21.59,3.03),(21.66,3.37),(21.71,2.76),(21.79,2.96),(21.88,2.62),(21.96,2.99),(22.04,2.93),(22.12,2.76),(22.2,2.62),(22.28,2.48),(22.36,1.8),(22.42,1.09),(22.49,1.39),(22.57,1.46),(22.65,1.6),(22.73,1.87),(22.81,1.43),(22.9,1.39),(22.98,1.46),(23.06,1.26),(23.14,1.09),(23.22,1.26),(23.29,3.3),(23.35,1.6),(23.43,2.11),(23.51,1.77),(23.57,2.62),(23.63,1.77),(23.71,2.28),(23.79,1.77),(23.88,1.6),(23.96,1.26),(24.0,1.43)]
P4_2C = [(0,3.54),(0.1,3.5),(0.2,3.55),(0.33,3.5),(0.45,3.56),(0.56,3.7),(0.65,3.5),(0.74,3.55),(0.88,3.6),(0.97,3.28),(1.06,3.25),(1.19,3.45),(1.28,3.3),(1.37,3.15),(1.46,3.35),(1.54,2.96),(1.64,2.45),(1.72,2.2),(1.8,2.3),(1.9,2.6),(1.96,2.55),(2.02,3.1),(2.07,2.45),(2.14,2.31),(2.23,2.14),(2.32,2.05),(2.37,2.6),(2.5,2.55),(2.59,2.45),(2.68,2.6),(2.77,2.3),(2.86,2.45),(2.95,2.7),(3.04,2.8),(3.16,2.75),(3.22,2.65),(3.27,3.2),(3.33,3.5),(3.4,3.45),(3.5,3.3),(3.59,3.4),(3.68,3.3),(3.77,3.05),(3.86,2.95),(3.95,3.15),(4.04,2.9),(4.13,3.3),(4.22,3.4),(4.31,3.5),(4.4,3.25),(4.49,2.8),(4.58,2.6),(4.67,2.85),(4.76,2.4),(4.85,2.7),(4.94,2.55),(5.03,3.05),(5.12,3.4),(5.21,3.1),(5.3,3.3),(5.39,3.15),(5.48,2.7),(5.57,2.9),(5.66,2.7),(5.75,2.55),(5.84,2.65),(5.98,2.55),(6.12,2.5),(6.21,2.6),(6.34,2.5),(6.43,2.3),(6.57,2.4),(6.7,2.35),(6.84,2.35),(6.93,2.3),(7.06,2.3),(7.2,2.25),(7.34,2.2),(7.43,2.7),(7.5,2.95),(7.59,2.75),(7.65,2.95),(7.74,2.5),(7.83,2.4),(7.92,2.7),(7.99,2.9),(8.08,3.0),(8.15,2.7),(8.24,2.8),(8.31,2.5),(8.4,2.65),(8.49,2.75),(8.58,2.7),(8.67,2.8),(8.76,2.6),(8.87,2.75),(8.96,2.6),(9.07,2.7),(9.19,2.6),(9.3,2.7),(9.41,2.5),(9.52,2.6),(9.61,2.45),(9.73,2.65),(9.85,2.55),(9.94,2.5),(10.03,2.4),(10.12,2.6),(10.23,2.5),(10.32,2.35),(10.41,2.3),(10.5,2.4),(10.59,2.7),(10.66,2.3),(10.72,2.5),(10.81,2.2),(10.9,1.9),(11.0,2.1),(11.1,2.3),(11.2,2.0),(11.3,2.2),(11.4,2.3),(11.54,2.2),(11.63,2.4),(11.72,2.5),(11.81,2.4),(11.88,2.8),(11.97,2.4),(12.05,2.4),(12.13,2.2),(12.21,2.0),(12.29,1.6),(12.33,1.45),(12.45,1.5),(12.55,1.4),(12.65,1.55),(12.75,1.45),(12.85,1.5),(12.95,1.4),(13.05,1.5),(13.15,1.45),(13.25,1.55),(13.35,1.45),(13.45,1.6),(13.55,1.45),(13.65,1.5),(13.75,1.4),(13.85,1.55),(13.95,1.45),(14.05,1.5),(14.15,1.55),(14.23,1.7),(14.29,2.3),(14.37,2.5),(14.45,2.8),(14.51,2.3),(14.58,2.5),(14.64,2.9),(14.72,2.45),(14.8,2.95),(14.89,2.5),(14.94,2.8),(15.0,2.3),(15.07,2.1),(15.15,2.9),(15.23,2.5),(15.31,2.3),(15.38,3.05),(15.44,2.3),(15.51,2.4),(15.57,2.85),(15.64,2.2),(15.72,1.7),(15.8,1.6),(15.9,1.55),(16.0,1.65),(16.1,1.55),(16.2,1.6),(16.3,1.5),(16.4,1.6),(16.53,1.65),(16.63,1.9),(16.71,1.9),(16.79,2.0),(16.86,1.95),(16.94,2.15),(17.02,2.1),(17.1,2.15),(17.19,2.0),(17.27,2.8),(17.35,2.0),(17.43,2.15),(17.51,1.9),(17.59,2.0),(17.68,2.15),(17.74,1.6),(17.8,1.5),(17.88,2.05),(17.96,1.7),(18.04,1.9),(18.12,1.85),(18.2,1.6),(18.29,2.0),(18.37,2.3),(18.45,2.45),(18.53,2.35),(18.61,2.45),(18.69,2.3),(18.78,2.55),(18.86,2.4),(18.94,2.65),(19.02,2.5),(19.1,2.45),(19.18,2.25),(19.26,2.05),(19.35,2.25),(19.43,2.15),(19.51,2.0),(19.59,2.2),(19.67,1.9),(19.75,2.1),(19.84,1.8),(19.92,1.95),(20.0,1.6),(20.08,1.9),(20.16,1.75),(20.24,1.5),(20.3,1.55),(20.4,1.6),(20.5,1.55),(20.6,1.7),(20.7,1.6),(20.8,1.5),(20.9,1.55),(21.0,1.6),(21.1,1.5),(21.2,1.7),(21.3,2.0),(21.43,2.2),(21.51,2.4),(21.59,2.7),(21.66,3.2),(21.71,2.4),(21.79,2.0),(21.88,2.3),(21.96,2.8),(22.04,2.5),(22.12,2.4),(22.2,2.2),(22.28,2.0),(22.36,1.6),(22.45,1.45),(22.6,1.5),(22.75,1.4),(22.9,1.5),(23.05,1.45),(23.2,1.5),(23.35,1.4),(23.5,1.5),(23.65,1.45),(23.8,1.5),(23.95,1.4),(24.0,1.45)]
P4_3C = [(0,3.7),(0.05,3.95),(0.1,3.8),(0.2,3.7),(0.3,3.85),(0.4,3.8),(0.5,3.85),(0.62,3.9),(0.7,4.0),(0.78,4.1),(0.86,3.9),(0.92,3.95),(1.0,3.85),(1.1,3.9),(1.2,3.95),(1.3,3.8),(1.4,3.75),(1.5,3.6),(1.56,3.3),(1.6,2.9),(1.65,2.8),(1.72,2.7),(1.8,2.75),(1.9,2.8),(2.0,2.9),(2.1,2.7),(2.2,2.5),(2.37,2.7),(2.5,2.8),(2.68,2.75),(2.86,2.6),(3.04,2.9),(3.22,2.7),(3.3,3.2),(3.38,3.6),(3.5,3.55),(3.6,3.65),(3.7,3.7),(3.8,3.5),(3.9,3.4),(4.0,3.5),(4.13,3.65),(4.22,3.6),(4.3,3.75),(4.4,3.5),(4.5,3.0),(4.6,2.8),(4.7,2.95),(4.8,2.6),(4.9,2.75),(5.03,3.1),(5.12,3.5),(5.21,3.25),(5.3,3.35),(5.4,3.2),(5.5,2.8),(5.6,2.95),(5.7,2.75),(5.84,2.7),(6.0,2.6),(6.2,2.6),(6.4,2.4),(6.6,2.45),(6.84,2.45),(7.06,2.35),(7.34,2.3),(7.43,2.7),(7.5,3.0),(7.65,2.95),(7.74,2.5),(7.83,2.35),(7.99,2.85),(8.08,3.1),(8.15,2.6),(8.31,2.3),(8.49,2.7),(8.67,2.7),(8.87,2.6),(9.07,2.55),(9.3,2.5),(9.41,2.2),(9.52,2.5),(9.73,2.55),(9.94,2.3),(10.12,2.4),(10.32,2.0),(10.41,1.8),(10.5,2.2),(10.59,2.7),(10.72,2.5),(10.81,1.8),(10.9,1.5),(11.0,1.8),(11.15,2.0),(11.3,1.5),(11.45,1.9),(11.63,2.2),(11.72,2.4),(11.88,2.7),(12.0,2.3),(12.13,2.0),(12.21,1.5),(12.29,1.1),(12.4,1.05),(12.5,0.95),(12.6,1.1),(12.7,1.0),(12.8,1.05),(12.9,1.1),(13.0,1.0),(13.1,1.1),(13.2,1.0),(13.3,1.1),(13.4,1.2),(13.5,1.1),(13.6,1.0),(13.7,1.1),(13.8,1.0),(13.9,1.05),(14.0,1.1),(14.15,1.2),(14.23,1.6),(14.29,2.2),(14.45,2.7),(14.58,2.4),(14.64,2.8),(14.8,2.8),(14.94,2.7),(15.07,1.8),(15.15,2.7),(15.31,1.5),(15.38,2.9),(15.44,1.0),(15.57,2.7),(15.64,1.9),(15.72,1.2),(15.8,1.1),(16.0,1.1),(16.2,1.0),(16.4,1.2),(16.53,1.1),(16.63,1.6),(16.79,1.8),(16.94,2.0),(17.1,2.0),(17.27,2.6),(17.43,2.0),(17.59,1.8),(17.74,1.2),(17.88,1.9),(18.04,1.7),(18.2,1.5),(18.37,2.2),(18.53,2.3),(18.78,2.45),(18.94,2.6),(19.1,2.4),(19.26,2.0),(19.43,2.1),(19.59,2.15),(19.75,2.05),(19.92,1.9),(20.08,1.85),(20.24,1.2),(20.4,1.1),(20.6,1.2),(20.8,1.1),(21.0,1.2),(21.2,1.4),(21.43,2.0),(21.59,2.6),(21.66,3.1),(21.79,1.6),(21.96,2.7),(22.12,2.3),(22.28,1.7),(22.45,1.2),(22.7,1.15),(23.0,1.2),(23.3,1.25),(23.6,1.2),(24.0,1.15)]
P4_ADIA_X = [(8.5,3.26),(9.15,3.26),(10.15,3.37),(12.46,1.21),(12.9,1.31),(13.5,1.73),(14.0,1.21),(16.08,1.65),(16.16,1.28),(17.6,1.12),(20.3,1.12),(20.6,1.19),(24.0,1.45)]
P4_PHY_X = [(10.15,2.48),(16.08,0.61),(20.6,0.34),(24.0,0.0)]
P4_CYAN = [(0,1.72),(2.05,2.18),(2.6,2.62),(2.66,2.68),(2.93,2.95),(3.01,3.03),(3.2,4.51),(4.56,4.65),(4.7,4.81),(5.06,5.28),(5.33,5.58),(5.62,5.66),(5.75,5.78),(6.64,6.78),(7.41,7.57),(7.59,7.73),(7.94,8.15),(8.39,8.45),(8.54,8.65),(8.69,8.75),(8.85,8.87),(9.7,9.72),(9.82,9.84),(10.56,10.63),(11.86,11.97),(14.45,14.51),(14.55,14.59),(14.64,14.7),(14.8,14.89),(14.95,14.99),(15.12,15.2),(15.26,15.33),(15.35,15.43),(15.61,15.65),(17.3,17.37),(21.64,21.74),(21.9,22.0)]
P4_YELLOW = [(15.84,15.9),(16.11,16.14),(16.18,16.22),(17.5,17.54),(17.6,17.62),(17.94,17.99),(18.23,18.26),(20.29,20.38),(22.42,22.59),(22.61,22.75),(22.81,22.84),(22.93,22.96),(23.23,23.26),(23.88,23.92)]
P4_GREY = [(6.86,6.88),(11.02,11.04),(12.2,12.22),(12.26,12.28),(12.45,12.47),(12.57,12.59),(12.67,12.69),(12.75,12.77),(12.86,12.88),(12.94,12.96),(13.02,13.1),(13.38,13.4),(13.61,13.63),(13.79,13.87),(13.93,13.95),(15.74,15.76),(16.01,16.03),(16.13,16.15),(16.29,16.31),(16.41,16.43),(16.53,16.55),(16.75,16.77),(20.52,20.64),(22.83,22.85),(22.93,22.95),(23.17,23.19),(23.33,23.35),(23.48,23.5),(23.64,23.66)]

# ---- panel 5 : DQ flag  (runs of samples as [start, end] hours; start == end is a single sample)
P5_YDOM = [-0.5, 11.5]
P5_YTICKS = [0, 2, 4, 6, 8, 10]
DQ11 = [(0,1.72),(2.02,2.19),(2.67,2.67),(2.93,3.05),(3.15,4.82),(5.05,5.28),(5.35,5.57),(5.65,5.65),(5.76,5.76),(6.64,6.79),(7.4,7.74),(7.94,8.15),(8.42,8.42),(8.55,8.64),(8.72,8.72),(9.7,9.7),(9.84,9.84),(10.57,10.64),(11.85,11.99),(14.45,14.71),(14.78,14.9),(14.98,14.98),(15.11,15.19),(15.26,15.43),(15.63,15.63),(17.29,17.37),(21.63,21.74),(21.91,22.01)]
DQ10 = [(0,1.61),(2.05,2.13),(2.67,2.67),(3.03,3.03),(3.21,3.93),(3.97,4.24),(4.28,4.55),(4.7,4.83),(5.05,5.26),(5.33,5.53),(5.65,5.65),(5.76,5.76),(6.67,6.67),(7.41,7.49),(7.61,7.61),(7.94,8.1),(8.4,8.4),(8.54,8.62),(8.71,8.71),(8.87,8.87),(9.7,9.7),(9.84,9.84),(10.59,10.59),(11.87,11.89),(14.45,14.7),(14.78,14.9),(14.98,14.98),(15.13,15.13),(15.27,15.27),(15.36,15.36),(15.62,15.62),(17.31,17.31),(21.64,21.66),(21.9,21.98)]
DQ9 = [(0,1.57),(2.06,2.06),(3.15,3.86),(4.01,4.22),(4.28,4.51),(4.76,4.76),(5.05,5.14),(5.35,5.35),(5.46,5.46),(7.43,7.43),(11.88,11.9),(14.66,14.66),(14.85,14.85),(15.35,15.35),(15.62,15.62),(17.31,17.31),(21.66,21.66)]
DQ7 = [(0,1.69),(2.95,2.95),(3.25,4.81),(5.0,5.0),(5.06,5.57),(7.74,7.74),(8.39,8.39)]
DQ6 = [(0,1.71),(2.02,2.08),(3.0,4.63),(5.0,5.57),(5.63,5.63),(5.69,5.69),(6.68,6.68),(7.14,7.14),(7.43,7.5),(7.62,7.62),(7.74,7.74),(8.07,8.07),(8.39,8.39),(10.39,10.39),(11.0,11.0),(11.28,11.28),(11.37,11.37),(12.2,12.2),(12.62,12.62),(13.58,13.58),(13.74,13.74),(13.8,13.8),(14.67,14.67),(15.15,15.15),(15.33,15.39),(20.88,20.93),(21.0,21.0),(21.13,21.13),(21.66,21.66),(21.93,21.93),(22.03,22.03)]
DQ5 = [(15.86,15.88),(16.08,16.25),(17.53,17.68),(17.97,17.97),(18.24,18.24),(20.3,20.38),(22.45,22.88),(22.96,22.96),(23.24,23.24),(23.97,23.97)]
DQ4 = [(2.1,2.1),(2.59,2.59),(4.51,4.51),(5.58,5.58),(6.68,6.72),(6.87,6.87),(10.92,10.92),(11.31,11.31),(12.32,12.32),(12.45,12.45),(12.58,12.62),(12.66,12.74),(12.81,12.89),(12.99,13.08),(13.12,13.25),(13.56,13.56),(13.83,13.83),(13.96,14.17),(15.42,15.42),(15.74,15.8),(15.85,15.92),(16.06,16.06),(16.17,16.3),(16.35,16.6),(16.78,16.84),(17.51,17.65),(18.01,18.01),(18.22,18.29),(20.28,20.32),(20.36,20.4),(20.49,20.61),(20.91,21.14),(21.33,21.37),(21.78,21.78),(22.42,22.42),(22.6,22.6),(22.98,23.08),(23.12,23.26),(23.44,23.55),(23.69,24.0)]
DQ3 = [(12.72,12.72),(12.85,12.85),(15.79,15.79),(20.43,20.65),(21.04,21.13),(22.45,22.45)]
DQ0 = [(1.72,2.02),(2.17,2.98),(3.07,3.07),(4.65,4.65),(4.82,5.06),(5.6,6.66),(6.77,7.41),(7.58,7.58),(7.74,7.95),(8.13,8.4),(8.46,8.55),(8.65,8.65),(8.74,9.7),(9.74,10.57),(10.64,11.63),(11.64,11.87),(11.95,12.7),(12.74,13.1),(13.14,13.9),(13.95,14.82),(14.9,15.35),(15.43,15.8),(15.88,16.17),(16.25,16.78),(16.82,17.55),(17.66,18.23),(18.27,20.3),(20.38,20.53),(20.61,21.02),(21.14,21.67),(21.72,21.93),(21.98,22.45),(22.73,23.22),(23.26,23.89)]
DQ_LEVELS = {11: DQ11, 10: DQ10, 9: DQ9, 7: DQ7, 6: DQ6, 5: DQ5, 4: DQ4, 3: DQ3, 0: DQ0}

# ------------------------------------------------------------------ style
W, H = 1794, 618
TICK = 18
FONT = "DejaVu Sans"
AXBLUE = "#0072BD"
DARK = "#262626"
C2 = "#0000FF"
C3 = "#ADD8E6"
CPHY = "#FF8C00"
CADIA = "#800080"
TAN = "#D2B48C"
BROWN = "#A52A2A"
CYAN = "#00FFFF"
YELLOW = "#FFFF00"
GREY = "#CCCCCC"
LAB = 25.6
TIT = 31.8
LEG = 26
MK = 230
W2, W3, WPHY, WAD = 3.0, 3.2, 6.5, 3.4

XS = alt.Scale(domain=[0, 24], nice=False, zero=False)
ONE = pd.DataFrame({"k": [0]})

X_AXIS = alt.Axis(values=X_TICKS, format="d", title=X_TITLE, titleFont=FONT, titleFontSize=TIT,
                  titleFontWeight="normal", titleColor=DARK, titlePadding=15, labelFont=FONT,
                  labelFontSize=LAB, labelColor=DARK, labelPadding=22, labelFlush=False,
                  ticks=False, domainColor=DARK, domainWidth=1.5, grid=False)


def y_axis(vals, title, fmt):
    return alt.Axis(values=vals, format=fmt, title=title, titleFont=FONT, titleFontSize=TIT,
                    titleFontWeight="normal", titleColor=AXBLUE, titlePadding=20, labelFont=FONT,
                    labelFontSize=LAB, labelColor=AXBLUE, labelPadding=20, labelFlush=False,
                    ticks=False, domainColor=AXBLUE, domainWidth=1.5, grid=False)


def to_df(points):
    rows, seg = [], 0
    for p in points:
        if p is None:
            seg += 1
            continue
        rows.append({"t": p[0], "v": p[1], "seg": seg})
    return pd.DataFrame(rows)


class Panel:
    def __init__(self, ydom, yvals, ytitle, yfmt):
        self.ys = alt.Scale(domain=ydom, nice=False, zero=False)
        self.yax = y_axis(yvals, ytitle, yfmt)
        self.yvals = yvals
        self.layers = []

    def X(self, f):
        return alt.X(f"{f}:Q", scale=XS, axis=X_AXIS)

    def Y(self, f):
        return alt.Y(f"{f}:Q", scale=self.ys, axis=self.yax)

    def frame(self):
        self.layers.append(alt.Chart(pd.DataFrame({"t": X_TICKS})).mark_rule(color=DARK, strokeWidth=1.5).encode(
            x=self.X("t"), y=alt.value(H), y2=alt.value(H - TICK)))
        self.layers.append(alt.Chart(pd.DataFrame({"v": self.yvals})).mark_rule(color=AXBLUE, strokeWidth=1.5).encode(
            y=self.Y("v"), x=alt.value(0), x2=alt.value(TICK)))

    def line(self, points, color, width):
        self.layers.append(alt.Chart(to_df(points)).mark_line(color=color, strokeWidth=width, clip=True,
                                                               strokeJoin="round").encode(
            x=self.X("t"), y=self.Y("v"), detail="seg:N"))

    def xmarks(self, points, color):
        self.layers.append(alt.Chart(to_df(points)).mark_point(shape="cross", angle=45, filled=True, size=MK,
                                                               color=color, opacity=1, clip=False).encode(
            x=self.X("t"), y=self.Y("v")))

    def bands(self, intervals, color, op=0.5):
        df = pd.DataFrame(intervals, columns=["a", "b"])
        self.layers.append(alt.Chart(df).mark_rect(color=color, opacity=op, clip=True).encode(
            x=self.X("a"), x2="b:Q"))

    def runs(self, levels, color):
        seg_rows, dot_rows = [], []
        for lvl, rr in levels.items():
            for a, b in rr:
                (dot_rows if a == b else seg_rows).append({"a": a, "b": b, "f": lvl})
        self.layers.append(alt.Chart(pd.DataFrame(seg_rows)).mark_rule(color=color, strokeWidth=8.5,
                                                                       strokeCap="round").encode(
            x=self.X("a"), x2="b:Q", y=self.Y("f")))
        self.layers.append(alt.Chart(pd.DataFrame(dot_rows)).mark_circle(color=color, size=64, opacity=1).encode(
            x=self.X("a"), y=self.Y("f")))

    def right_edge(self):
        self.layers.append(alt.Chart(ONE).mark_rule(color=AXBLUE, strokeWidth=1.5).encode(
            x=alt.value(W), y=alt.value(0), y2=alt.value(H)))

    def legend(self, x0, x1, tx, rows):
        for y, color, width, label, marker in rows:
            if color:
                self.layers.append(alt.Chart(ONE).mark_rule(color=color, strokeWidth=width).encode(
                    x=alt.value(x0), x2=alt.value(x1), y=alt.value(y)))
            if marker:
                self.layers.append(alt.Chart(ONE).mark_point(shape="cross", angle=45, filled=True, size=MK,
                                                             color=color, opacity=1).encode(
                    x=alt.value((x0 + x1) / 2), y=alt.value(y)))
            if label:
                self.layers.append(alt.Chart(ONE).mark_text(align="left", baseline="middle", font=FONT,
                                                            fontSize=LEG, color="#000000").encode(
                    x=alt.value(tx), y=alt.value(y), text=alt.value(label)))

    def chart(self):
        return alt.layer(*self.layers).properties(width=W, height=H)


# ------------------------------------------------------------------ panels
a = Panel(P1_YDOM, P1_YTICKS, "Zenith BT 23 GHz, K", "d")
a.frame()
a.line(P1_2C, C2, W2); a.line(P1_3C, C3, W3); a.line(P1_PHY, CPHY, WPHY)
a.xmarks([(0, 134)], C2)
a.bands(P1_TAN, TAN); a.right_edge()
a.legend(1070, 1230, 1247, [(68, C2, 3, "MWR 2C (tan = wet window)", True),
                            (107, C3, 3, "MWR 3C", False),
                            (147, CPHY, 6, "Phy-Iter", False)])

b = Panel(P2_YDOM, P2_YTICKS, "Zenith BT 31 GHz, K", "d")
b.frame()
b.line(P2_2C, C2, W2); b.line(P2_3C, C3, W3); b.line(P2_PHY, CPHY, WPHY)
b.xmarks([(0, 153)], C2)
b.bands(P2_TAN, TAN); b.right_edge()
b.legend(1091, 1251, 1268, [(68, C2, 3, "MWR2C", True),
                            (108, C3, 3, "MWR 3C (tan = rain flag)", False),
                            (147, CPHY, 6, "Phy-Iter", False)])

c = Panel(P3_YDOM, P3_YTICKS, "Precip. Water Vapor, mm", "d")
c.frame()
c.line(P3_2C, C2, W2); c.line(P3_3C, C3, W3); c.line(P3_PHY, CPHY, WPHY)
c.xmarks([(0, 3.3)], C2)
c.bands(P3_TAN, TAN); c.bands(P3_BROWN, BROWN); c.right_edge()
c.legend(1251, 1411, 1428, [(77, C2, 3, "MWR 2C PWV", True),
                            (117, C3, 3, "MWR 3C PWV", False),
                            (157, None, 0, "Phy-Iter PWV", False),
                            (196, CPHY, 6, "(tan = MWR 2C only)", False),
                            (233, None, 0, "(brown = MWR 3C only)", False)])

d = Panel(P4_YDOM, P4_YTICKS, "log10 Liquid Water Path, log10(g/m²)", "~g")
d.frame()
d.line(P4_2C, C2, W2); d.line(P4_3C, C3, W3); d.line(P4_PHY, CPHY, WPHY); d.line(P4_ADIA, CADIA, WAD)
d.xmarks([(0, 3.54)], C2); d.xmarks(P4_ADIA_X, CADIA); d.xmarks(P4_PHY_X, CPHY)
d.bands(P4_GREY, GREY); d.bands(P4_YELLOW, YELLOW); d.bands(P4_CYAN, CYAN); d.right_edge()
d.legend(120, 279, 297, [(456, C2, 3, "MWR 2C LWP", True),
                         (496, C3, 3, "MWR 3C LWP", False),
                         (535, CPHY, 6, "Phy-Iter LWP", False),
                         (575, CADIA, 3.4, "Adiabatic LWP", False)])

e = Panel(P5_YDOM, P5_YTICKS, "MWR Phy Iter DQ Flag", "d")
e.frame()
e.runs(DQ_LEVELS, CPHY)
e.right_edge()

chart = alt.vconcat(a.chart(), b.chart(), c.chart(), d.chart(), e.chart(),
                    spacing=149, bounds="flush").properties(
    padding={"left": 124, "top": 193, "right": 20, "bottom": 20}
).configure(font=FONT, background="white").configure_view(stroke=None)

chart.save("out.html", embed_options={"renderer": "svg", "actions": False})
